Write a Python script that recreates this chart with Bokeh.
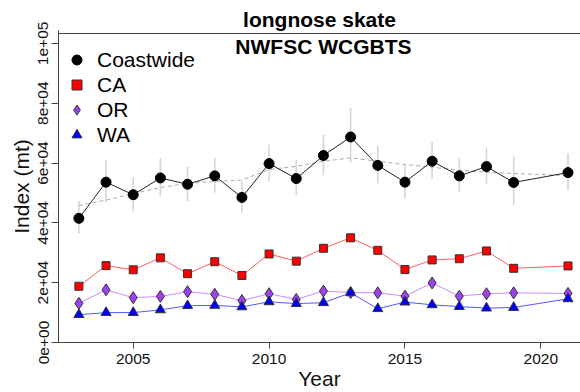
from bokeh.plotting import figure
from bokeh.models import (FixedTicker, Legend, LegendItem, Label,
                          Range1d, ColumnDataSource)
from bokeh.embed import file_html
from bokeh.resources import INLINE

years = [2003, 2004, 2005, 2006, 2007, 2008, 2009, 2010, 2011, 2012, 2013,
         2014, 2015, 2016, 2017, 2018, 2019, 2021]
coastwide = [41500, 53600, 49400, 55000, 52900, 55700, 48500, 59800, 54800, 62500,
             68700, 59200, 53600, 60600, 55700, 58800, 53500, 56800]
coast_upper = [47300, 61100, 55300, 61700, 58700, 61700, 53900, 66100, 61100, 69400,
               78400, 65800, 59500, 67100, 61800, 65200, 62200, 63300]
coast_lower = [36500, 47000, 43900, 48900, 47300, 50100, 43400, 53900, 49300, 55900,
               60000, 53200, 48100, 54700, 50300, 52800, 46000, 50900]
trend = [45800, 47600, 49800, 51800, 53200, 53800, 54300, 57800, 58900, 60600,
         61700, 60600, 59500, 58600, 57600, 56900, 56500, 55800]
ca = [18800, 25700, 24300, 28300, 23000, 27000, 22400, 29600, 27200, 31500,
      35000, 30800, 24400, 27600, 28000, 30600, 24800, 25600]
orr = [13100, 17600, 15000, 15400, 17000, 16100, 14000, 16300, 14400, 17200,
       16700, 16600, 15500, 19900, 15500, 16300, 16600, 16400]
wa = [9300, 10000, 10000, 10900, 12300, 12400, 11900, 13600, 13000, 13300,
      16600, 11300, 13500, 12600, 12000, 11500, 11700, 14600]

y_ticks = [0, 20000, 40000, 60000, 80000, 100000]
y_tick_labels = ["0e+00", "2e+04", "4e+04", "6e+04", "8e+04", "1e+05"]
x_ticks = [2005, 2010, 2015, 2020]

FONT = "Liberation Sans"
AX = "#444444"
Y_TOP = 103300          # top of the plot box
Y_RANGE_END = 104300    # slightly above the box line so the line stays inside

p = figure(width=580, height=392, output_backend="svg", toolbar_location=None,
           x_range=Range1d(2002.25, 2021.46), y_range=Range1d(0, Y_RANGE_END),
           min_border_left=58, min_border_right=0, min_border_top=30,
           min_border_bottom=48, outline_line_color=None)
p.grid.visible = False
p.background_fill_color = "white"
p.border_fill_color = "white"

p.title.text = "longnose skate"
p.title.align = "center"
p.title.text_font = FONT
p.title.text_font_size = "21px"
p.title.text_font_style = "bold"
p.title.text_color = "black"
p.title.standoff = 0
p.title.offset = 3

src = ColumnDataSource(dict(x=years, c=coastwide, cu=coast_upper, cl=coast_lower,
                            t=trend, ca=ca, orr=orr, wa=wa))

# box top line
p.hspan(y=[Y_TOP], line_color=AX, line_width=1.2)

# error bars
p.segment(x0="x", y0="cl", x1="x", y1="cu", source=src, line_color="#d6d6d6",
          line_width=1.6)
# trend
p.line("x", "t", source=src, line_color="#aaaaaa", line_dash="4 3", line_width=1)

# series lines
p.line("x", "c", source=src, line_color="#222222", line_width=1)
p.line("x", "ca", source=src, line_color="#ff4040", line_alpha=0.85, line_width=1)
p.line("x", "orr", source=src, line_color="#c080ff", line_alpha=0.9, line_width=1)
p.line("x", "wa", source=src, line_color="#3a3aff", line_alpha=0.85, line_width=1)

r_coast = p.scatter("x", "c", source=src, marker="circle", size=10,
                    fill_color="black", line_color="black")
r_ca = p.scatter("x", "ca", source=src, marker="square", size=8,
                 fill_color="#ff0000", line_color="#333333", line_width=1)
r_or = p.scatter("x", "orr", source=src, marker="diamond", size=12,
                 fill_color="#a040f0", line_color="#333333", line_width=1)
r_wa = p.scatter("x", "wa", source=src, marker="triangle", size=10,
                 fill_color="#0000ff", line_color="#333333", line_width=1)

# axes
xa = p.xaxis[0]
xa.ticker = FixedTicker(ticks=x_ticks)
xa.axis_label = "Year"
ya = p.yaxis[0]
ya.ticker = FixedTicker(ticks=y_ticks)
ya.major_label_overrides = {t: l for t, l in zip(y_ticks, y_tick_labels)}
ya.axis_label = "Index (mt)"
ya.major_label_orientation = "vertical"
for ax in (xa, ya):
    ax.minor_tick_line_color = None
    ax.axis_line_color = AX
    ax.major_tick_line_color = AX
    ax.major_tick_out = 6
    ax.major_tick_in = 0
    ax.major_label_text_font = FONT
    ax.major_label_text_font_size = "15.5px"
    ax.major_label_text_color = "#111111"
    ax.axis_label_text_font = FONT
    ax.axis_label_text_font_size = "21px"
    ax.axis_label_text_font_style = "normal"
    ax.axis_label_text_color = "#111111"
xa.major_label_standoff = 5
xa.axis_label_standoff = 0
ya.major_tick_out = 7
ya.major_label_standoff = 3
ya.axis_label_standoff = 3

legend = Legend(items=[LegendItem(label="Coastwide", renderers=[r_coast]),
                       LegendItem(label="CA", renderers=[r_ca]),
                       LegendItem(label="OR", renderers=[r_or]),
                       LegendItem(label="WA", renderers=[r_wa])],
                location=(6, 195), glyph_width=25, glyph_height=25,
                label_height=25, spacing=0, padding=0, margin=0,
                label_standoff=8, label_text_font=FONT, label_text_color="black",
                label_text_font_size="21px", border_line_color=None,
                background_fill_alpha=0)
p.add_layout(legend, "center")

p.add_layout(Label(x=2012, y=98800, text="NWFSC WCGBTS", text_align="center",
                   text_baseline="middle", text_font=FONT,
                   text_font_size="21px", text_font_style="bold",
                   text_color="black"))

open("out.html", "w").write(file_html(p, INLINE))
